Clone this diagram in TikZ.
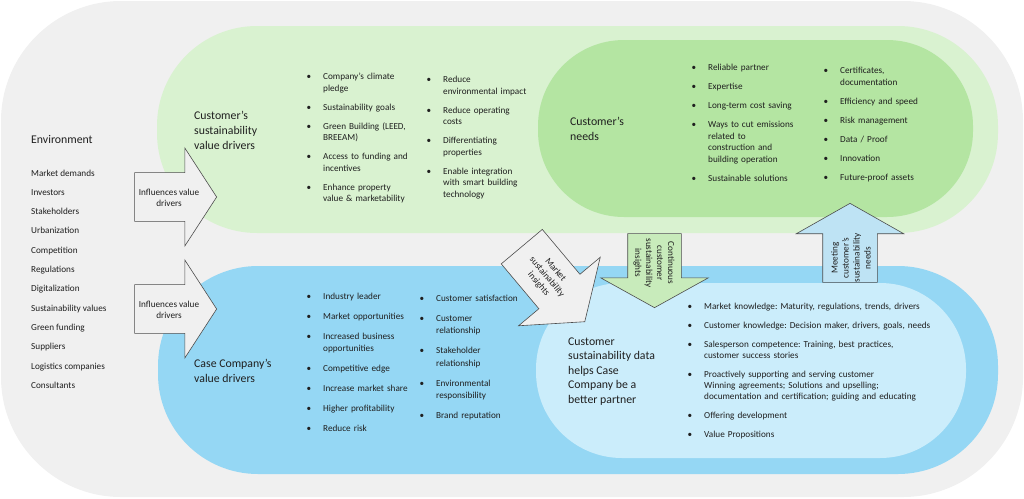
\documentclass[tikz,border=0pt]{standalone}
\usepackage{fontspec}
\setmainfont{Carlito}
\usepackage{xcolor}
\usepackage{tikz}
\usetikzlibrary{shapes.arrows, positioning}

\definecolor{bggray}{HTML}{F0F0F0}
\definecolor{palegreen}{HTML}{D9F2D0}
\definecolor{needsgreen}{HTML}{B4E5A2}
\definecolor{caseblue}{HTML}{95D7F4}
\definecolor{datablue}{HTML}{CBEDFB}
\definecolor{insightgreen}{HTML}{C8EBBB}
\definecolor{meetblue}{HTML}{BEE3F4}
\definecolor{edgegray}{HTML}{4D4D4D}
\definecolor{ink}{HTML}{1F1F1F}

\tikzstyle{region} = [rectangle, inner sep=0pt, draw=none]
\tikzstyle{bigarrow} = [single arrow, draw=edgegray, line width=0.6pt, inner xsep=0pt, single arrow head indent=0pt, anchor=tip]
\tikzstyle{arrowlabel} = [align=center, inner sep=0pt, text=ink, font=\fontsize{9.2}{11}\selectfont]
\tikzstyle{heading} = [anchor=north west, align=left, inner sep=0pt, text=ink, font=\fontsize{11.8}{15}\selectfont]
\tikzstyle{envlist} = [anchor=north west, align=left, inner sep=0pt, text=ink, font=\fontsize{9.2}{19.3}\selectfont]
\tikzstyle{bullets} = [anchor=north west, text width=250pt, align=left, inner sep=0pt, text=ink, font=\fontsize{9.2}{11.5}\selectfont]

\newlength{\bgap}
\setlength{\bgap}{7.5pt}
\newcommand{\bitem}[1]{\noindent\makebox[16.5pt][l]{\textbullet}\parbox[t]{230pt}{\raggedright #1\par\xdef\bdepth{\the\prevdepth}}\par\prevdepth=\bdepth\relax\vspace{\bgap}}

\begin{document}
\frenchspacing
\begin{tikzpicture}[x=1pt,y=-1pt]
\useasboundingbox (0,0) rectangle (1024,498);

% regions
\node[region, fill=bggray, rounded corners=120pt, minimum width=1022pt, minimum height=496pt] (env) at (512,249) {};
\node[region, fill=palegreen, rounded corners=100pt, minimum width=841pt, minimum height=207pt] (custdrv) at (577.5,129.5) {};
\node[region, fill=needsgreen, rounded corners=86pt, minimum width=435pt, minimum height=177pt] (custneeds) at (755.5,128.5) {};
\node[region, fill=caseblue, rounded corners=100pt, minimum width=840pt, minimum height=208pt] (casedrv) at (578,370) {};
\node[region, fill=datablue, rounded corners=86pt, minimum width=430pt, minimum height=175pt] (custdata) at (751,370.5) {};

% arrows
\node[bigarrow, fill=bggray, inner ysep=24pt, minimum height=82pt, minimum width=98pt, single arrow head extend=24.5pt, single arrow tip angle=114] (infl1) at (217,197) {};
\node[bigarrow, fill=bggray, inner ysep=24pt, minimum height=82pt, minimum width=98pt, single arrow head extend=24.5pt, single arrow tip angle=114] (infl2) at (217,309) {};
\node[bigarrow, fill=bggray, rotate=-50, inner ysep=26.5pt, minimum height=98pt, minimum width=106pt, single arrow head extend=26.5pt, single arrow tip angle=107] (insight) at (585,322) {};
\node[bigarrow, fill=insightgreen, rotate=-90, inner ysep=26.5pt, minimum height=74pt, minimum width=107pt, single arrow head extend=27pt, single arrow tip angle=122] (continuous) at (654.5,308) {};
\node[bigarrow, fill=meetblue, rotate=90, inner ysep=27pt, minimum height=79pt, minimum width=107pt, single arrow head extend=26.5pt, single arrow tip angle=121] (meeting) at (850,203) {};

\node[arrowlabel] (infl1-lbl) at (169,198) {Influences value\\drivers};
\node[arrowlabel] (infl2-lbl) at (169,310) {Influences value\\drivers};
\node[arrowlabel, rotate=-50] (insight-lbl) at (547,277) {Market\\sustainability\\insights};
\node[arrowlabel, rotate=-90] (continuous-lbl) at (654,263) {Continuous\\customer\\sustainability\\insights};
\node[arrowlabel, rotate=90] (meeting-lbl) at (851,258) {Meeting\\customer's\\sustainability\\needs};

% environment
\node[heading] (env-title) at (31,135.5) {Environment};
\node[envlist] (env-list) at (31,169.5) {Market demands\\Investors\\Stakeholders\\Urbanization\\Competition\\Regulations\\Digitalization\\Sustainability values\\Green funding\\Suppliers\\Logistics companies\\Consultants};

% headings
\node[heading] (custdrv-title) at (194,110.5) {Customer's\\sustainability\\value drivers};
\node[heading] (needs-title) at (570,116.5) {Customer's\\needs};
\node[heading] (casedrv-title) at (194,358.5) {Case Company's\\value drivers};
\node[heading, font=\fontsize{11.8}{14.5}\selectfont] (data-title) at (568,337.5) {Customer\\sustainability data\\helps Case\\Company be a\\better partner};

% bullet lists
\node[bullets] (custdrv-a) at (306.5,73.2) {%
  \bitem{Company's climate\\pledge}
  \bitem{Sustainability goals}
  \bitem{Green Building (LEED,\\BREEAM)}
  \bitem{Access to funding and\\incentives}
  \bitem{Enhance property\\value \& marketability}};
\node[bullets] (custdrv-b) at (426.5,76.2) {%
  \bitem{Reduce\\environmental impact}
  \bitem{Reduce operating\\costs}
  \bitem{Differentiating\\properties}
  \bitem{Enable integration\\with smart building\\technology}};
\node[bullets] (needs-a) at (691.5,64.2) {%
  \bitem{Reliable partner}
  \bitem{Expertise}
  \bitem{Long-term cost saving}
  \bitem{Ways to cut emissions\\related to\\construction and\\building operation}
  \bitem{Sustainable solutions}};
\node[bullets] (needs-b) at (823.5,67.2) {%
  \bitem{Certificates,\\documentation}
  \bitem{Efficiency and speed}
  \bitem{Risk management}
  \bitem{Data / Proof}
  \bitem{Innovation}
  \bitem{Future-proof assets}};
\node[bullets, font=\fontsize{9.2}{12.2}\selectfont] (casedrv-a) at (306.5,293.2) {%
  \setlength{\bgap}{7.8pt}%
  \bitem{Industry leader}
  \bitem{Market opportunities}
  \bitem{Increased business\\opportunities}
  \bitem{Competitive edge}
  \bitem{Increase market share}
  \bitem{Higher profitability}
  \bitem{Reduce risk}};
\node[bullets, font=\fontsize{9.2}{12.2}\selectfont] (casedrv-b) at (419.5,295.2) {%
  \setlength{\bgap}{7.8pt}%
  \bitem{Customer satisfaction}
  \bitem{Customer\\relationship}
  \bitem{Stakeholder\\relationship}
  \bitem{Environmental\\responsibility}
  \bitem{Brand reputation}};
\node[bullets, font=\fontsize{9.2}{11.3}\selectfont] (data-list) at (687.5,303.2) {%
  \setlength{\bgap}{7.4pt}%
  \bitem{Market knowledge: Maturity, regulations, trends, drivers}
  \bitem{Customer knowledge: Decision maker, drivers, goals, needs}
  \bitem{Salesperson competence: Training, best practices,\\customer success stories}
  \bitem{Proactively supporting and serving customer\\Winning agreements; Solutions and upselling;\\documentation and certification; guiding and educating}
  \bitem{Offering development}
  \bitem{Value Propositions}};

\end{tikzpicture}
\end{document}
